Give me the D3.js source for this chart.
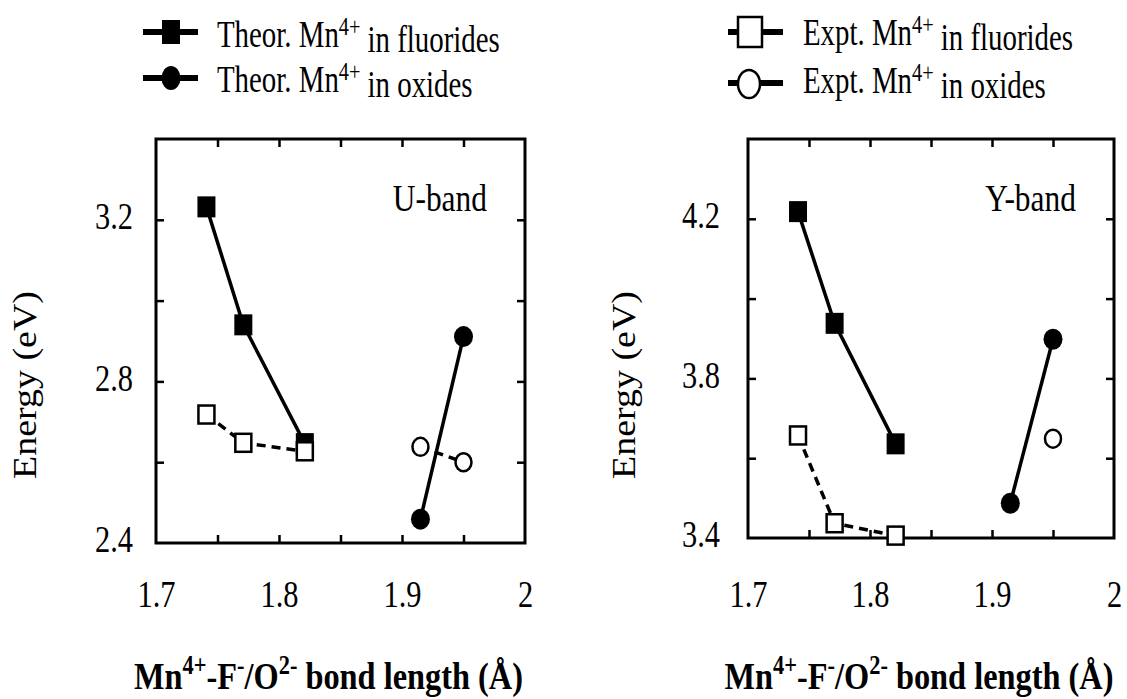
<!DOCTYPE html>
<html>
<head>
<meta charset="utf-8">
<script src="https://cdn.jsdelivr.net/npm/d3@7"></script>
<style>
  body { margin: 0; background: #fff; }
  svg { display: block; }
  svg text { font-family: "Liberation Serif", "DejaVu Serif", serif; }
</style>
</head>
<body>
<div id="chart-area"></div>
<script>
// bond lengths (Angstrom)
var fluorideBond = [1.741, 1.771, 1.821];
var oxideBond = [1.915, 1.950];
var yExptOxideBond = [1.950];

// U-band energies (eV)
var uTheorF = [3.232, 2.940, 2.646];
var uExptF = [2.718, 2.648, 2.627];
var uTheorO = [2.459, 2.911];
var uExptO = [2.638, 2.600];

// Y-band energies (eV)
var yTheorF = [4.218, 3.938, 3.636];
var yExptF = [3.657, 3.437, 3.406];
var yTheorO = [3.487, 3.898];
var yExptO = [3.649];

var xMinorTicks = [1.75, 1.8, 1.85, 1.9, 1.95];
var xTickLabels = [1.7, 1.8, 1.9, 2.0];
var uTicks = [2.6, 2.8, 3.0, 3.2];
var uTickLabels = [2.4, 2.8, 3.2];
var yTicks = [3.6, 3.8, 4.0, 4.2];
var yTickLabels = [3.4, 3.8, 4.2];

var legendLabels = [
  ["Theor. Mn", "4+", " in fluorides"],
  ["Theor. Mn", "4+", " in oxides"],
  ["Expt. Mn", "4+", " in fluorides"],
  ["Expt. Mn", "4+", " in oxides"]
];

var serif = "Liberation Serif";
var SX = 0.8; // picture is squeezed horizontally

var svg = d3.select("#chart-area")
  .append("svg")
    .attr("width", 1127)
    .attr("height", 699);

// text that is narrowed like the original
function stext(parent, x, y, size, sx) {
  return parent.append("text")
    .attr("transform", "translate(" + x + "," + y + ") scale(" + (sx || SX) + ",1)")
    .style("font-family", serif)
    .attr("font-size", size)
    .attr("fill", "#000");
}

function supText(t, parts, small) {
  t.append("tspan").text(parts[0]);
  t.append("tspan").attr("font-size", small).attr("dy", "-0.45em").text(parts[1]);
  t.append("tspan").attr("dy", "0.45em").text(parts[2]);
}

var panels = [
  {label: "U-band", left: 156, right: 525, top: 139, bottom: 543,
   yDomain: [2.4, 3.4], ticks: uTicks, tickLabels: uTickLabels,
   theorF: uTheorF, exptF: uExptF, theorO: uTheorO, exptO: uExptO, exptOBond: oxideBond,
   yTitleX: 36, labelGap: 23},
  {label: "Y-band", left: 748, right: 1114, top: 139, bottom: 538,
   yDomain: [3.4, 4.4], ticks: yTicks, tickLabels: yTickLabels,
   theorF: yTheorF, exptF: yExptF, theorO: yTheorO, exptO: yExptO, exptOBond: yExptOxideBond,
   yTitleX: 635, labelGap: 28}
];

panels.forEach(function(p) {
  var x = d3.scaleLinear().domain([1.7, 2.0]).range([p.left, p.right]);
  var y = d3.scaleLinear().domain(p.yDomain).range([p.bottom, p.top]);
  var g = svg.append("g");

  // inner ticks on all four sides
  g.append("g").attr("transform", "translate(0," + p.bottom + ")")
    .call(d3.axisBottom(x).tickValues(xMinorTicks).tickSize(-8).tickFormat(""));
  g.append("g").attr("transform", "translate(0," + p.top + ")")
    .call(d3.axisTop(x).tickValues(xMinorTicks).tickSize(-8).tickFormat(""));
  g.append("g").attr("transform", "translate(" + p.left + ",0)")
    .call(d3.axisLeft(y).tickValues(p.ticks).tickSize(-8).tickFormat(""));
  g.append("g").attr("transform", "translate(" + p.right + ",0)")
    .call(d3.axisRight(y).tickValues(p.ticks).tickSize(-8).tickFormat(""));
  g.selectAll(".domain").remove();
  g.selectAll(".tick line").attr("stroke", "#000").attr("stroke-width", 2.5);

  // tick labels
  var xl = g.append("g").attr("transform", "translate(0," + p.bottom + ")")
    .call(d3.axisBottom(x).tickValues(xTickLabels).tickSize(0).tickFormat(d3.format("")));
  xl.attr("font-family", null);
  xl.select(".domain").remove();
  xl.selectAll("text")
    .attr("y", 607 - p.bottom).attr("dy", 0)
    .attr("transform", "scale(" + SX + ",1)")
    .style("font-family", serif).attr("font-size", 38).attr("fill", "#000");

  var yl = g.append("g").attr("transform", "translate(" + p.left + ",0)")
    .call(d3.axisLeft(y).tickValues(p.tickLabels).tickSize(0).tickFormat(d3.format(".1f")));
  yl.attr("font-family", null);
  yl.select(".domain").remove();
  yl.selectAll("text")
    .attr("x", -p.labelGap / SX).attr("dy", "0.23em")
    .attr("transform", "scale(" + SX + ",1)")
    .style("font-family", serif).attr("font-size", 38).attr("fill", "#000");

  // frame
  g.append("rect")
    .attr("x", p.left).attr("y", p.top)
    .attr("width", p.right - p.left).attr("height", p.bottom - p.top)
    .attr("fill", "none").attr("stroke", "#000").attr("stroke-width", 3);

  var line = d3.line()
    .x(function(d) { return x(d[0]); })
    .y(function(d) { return y(d[1]); });

  var theorF = d3.zip(fluorideBond, p.theorF);
  var exptF = d3.zip(fluorideBond, p.exptF);
  var theorO = d3.zip(oxideBond, p.theorO);
  var exptO = d3.zip(p.exptOBond, p.exptO);

  // lines
  [theorF, theorO].forEach(function(s) {
    g.append("path").attr("d", line(s))
      .attr("fill", "none").attr("stroke", "#000").attr("stroke-width", 3.5);
  });
  [exptF, exptO].forEach(function(s) {
    if (s.length < 2) return;
    g.append("path").attr("d", line(s))
      .attr("fill", "none").attr("stroke", "#000").attr("stroke-width", 3.5)
      .attr("stroke-dasharray", "9,6");
  });

  // markers
  g.selectAll(".tf").data(theorF).enter().append("rect")
    .attr("x", function(d) { return x(d[0]) - 9; })
    .attr("y", function(d) { return y(d[1]) - 10.5; })
    .attr("width", 18).attr("height", 21).attr("fill", "#000");
  g.selectAll(".to").data(theorO).enter().append("ellipse")
    .attr("cx", function(d) { return x(d[0]); })
    .attr("cy", function(d) { return y(d[1]); })
    .attr("rx", 9.5).attr("ry", 10.5).attr("fill", "#000");
  g.selectAll(".ef").data(exptF).enter().append("rect")
    .attr("x", function(d) { return x(d[0]) - 8; })
    .attr("y", function(d) { return y(d[1]) - 9; })
    .attr("width", 16).attr("height", 18)
    .attr("fill", "#fff").attr("stroke", "#000").attr("stroke-width", 2.5);
  g.selectAll(".eo").data(exptO).enter().append("ellipse")
    .attr("cx", function(d) { return x(d[0]); })
    .attr("cy", function(d) { return y(d[1]); })
    .attr("rx", 8).attr("ry", 9).attr("fill", "#fff")
    .attr("stroke", "#000").attr("stroke-width", 2.5);

  // band label
  stext(g, p.right - 38, 211, 37, 0.85).attr("text-anchor", "end").text(p.label);

  // y title
  g.append("text")
    .attr("transform", "translate(" + p.yTitleX + ",385) rotate(-90) scale(1.15,1)")
    .attr("text-anchor", "middle")
    .style("font-family", serif).attr("font-size", 33)
    .text("Energy (eV)");

  // x title
  var xt = stext(g, (p.left + p.right) / 2 - 12, 689, 39, 0.83)
    .attr("text-anchor", "middle").attr("font-weight", "bold");
  xt.append("tspan").text("Mn");
  xt.append("tspan").attr("font-size", 27).attr("dy", -15).text("4+");
  xt.append("tspan").attr("dy", 15).text("-F");
  xt.append("tspan").attr("font-size", 27).attr("dy", -15).text("-");
  xt.append("tspan").attr("dy", 15).text("/O");
  xt.append("tspan").attr("font-size", 27).attr("dy", -15).text("2-");
  xt.append("tspan").attr("dy", 15).text(" bond length (\u00C5)");
});

// legend
var leg = svg.append("g");
var rowsY = [32, 78];
var legX = [143, 728];

// Theor. fluorides
leg.append("line").attr("x1", legX[0]).attr("x2", legX[0] + 55)
  .attr("y1", rowsY[0]).attr("y2", rowsY[0]).attr("stroke", "#000").attr("stroke-width", 6);
leg.append("rect").attr("x", legX[0] + 19).attr("y", rowsY[0] - 12)
  .attr("width", 18).attr("height", 24).attr("fill", "#000");
// Theor. oxides
leg.append("line").attr("x1", legX[0]).attr("x2", legX[0] + 55)
  .attr("y1", rowsY[1]).attr("y2", rowsY[1]).attr("stroke", "#000").attr("stroke-width", 6);
leg.append("ellipse").attr("cx", legX[0] + 28).attr("cy", rowsY[1])
  .attr("rx", 9.5).attr("ry", 12).attr("fill", "#000");
// Expt. fluorides
leg.append("line").attr("x1", legX[1]).attr("x2", legX[1] + 55)
  .attr("y1", rowsY[0]).attr("y2", rowsY[0]).attr("stroke", "#000").attr("stroke-width", 6);
leg.append("rect").attr("x", legX[1] + 10).attr("y", rowsY[0] - 15)
  .attr("width", 24).attr("height", 30)
  .attr("fill", "#fff").attr("stroke", "#000").attr("stroke-width", 2.5);
// Expt. oxides
leg.append("line").attr("x1", legX[1]).attr("x2", legX[1] + 55)
  .attr("y1", rowsY[1] + 5).attr("y2", rowsY[1] + 5).attr("stroke", "#000").attr("stroke-width", 6);
leg.append("ellipse").attr("cx", legX[1] + 21).attr("cy", rowsY[1] + 6)
  .attr("rx", 11).attr("ry", 14)
  .attr("fill", "#fff").attr("stroke", "#000").attr("stroke-width", 2.5);

var textPos = [[217, 47], [217, 92], [803, 45], [803, 93]];
legendLabels.forEach(function(parts, i) {
  var t = stext(leg, textPos[i][0], textPos[i][1], 37, 0.78);
  supText(t, parts, 26);
});
</script>
</body>
</html>
